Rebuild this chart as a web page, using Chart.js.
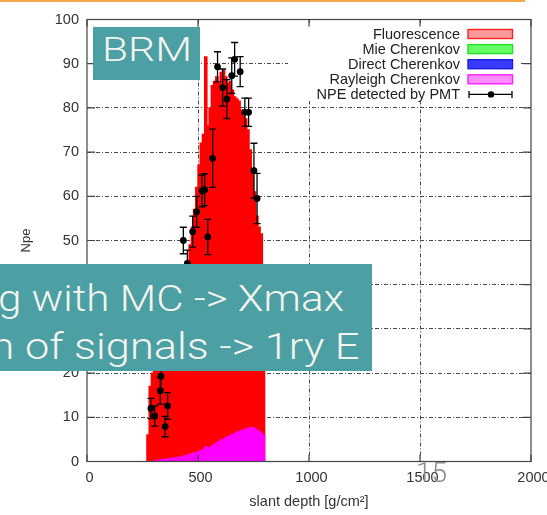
<!DOCTYPE html>
<html>
<head>
<meta charset="utf-8">
<script src="https://cdn.jsdelivr.net/npm/chart.js@4.4.1/dist/chart.umd.min.js"></script>
<style>
  html, body { margin: 0; padding: 0; background: #fff; }
  #wrap { position: relative; width: 547px; height: 515px; overflow: hidden; }
  #topline { position: absolute; left: 0; top: 0; width: 525px; height: 2px; background: #f3a64c; }
  .tag { position: absolute; background: #4c9fa3; }
  .tag span, #page {
    position: absolute; white-space: nowrap;
    font-family: Roboto, "Open Sans", sans-serif; font-weight: 300;
  }
  .tag span { color: #f4f4ef; }
  #brm { left: 93.3px; top: 26.7px; width: 106.7px; height: 53.3px; }
  #brm span { left: 9px; top: 5.4px; font-size: 34px; line-height: 34px; transform-origin: left center; }
  #note { left: 0; top: 263.5px; width: 371.5px; height: 107px; }
  #note span { font-size: 36px; line-height: 36px; transform-origin: right center; }
  #line1 { right: 27.9px; top: 17.7px; }
  #line2 { right: 12.2px; top: 65.2px; }
  #page { left: 416px; top: 459.4px; font-size: 28px; line-height: 28px; color: #8c8c8c; }
</style>
</head>
<body>
<div id="wrap">
  <canvas id="npeChart" width="547" height="515"></canvas>
  <div id="topline"></div>
  <div id="brm" class="tag"><span id="brmText">BRM</span></div>
  <div id="note" class="tag">
    <span id="line1">g with MC -&gt; Xmax</span>
    <span id="line2">n of signals -&gt; 1ry E</span>
  </div>
  <div id="page">15</div>
</div>
<script>
// simulated photoelectrons per slant depth bin (bin centres, g/cm^2)
var fluoDepth = [275, 285, 295, 305, 315, 325, 335, 345, 355, 365, 375, 385, 395, 405, 415, 425, 435, 445,
  455, 465, 475, 485, 495, 505, 515, 525, 535, 545, 555, 565, 575, 585, 595, 605, 615, 625, 635, 645,
  655, 665, 675, 685, 695, 705, 715, 725, 735, 745, 755, 765, 775, 785, 795];
var fluoNpe = [6, 17, 20, 22, 23, 25, 26, 28, 29, 30, 32, 33, 35, 36, 38, 39, 41, 43,
  45, 49, 53, 57, 62, 67, 72, 74, 91.5, 76, 80, 85, 86, 87, 85.5, 88, 88.5, 87, 85.5, 86,
  84, 82.5, 82, 81.5, 79.5, 78, 77.5, 75, 70.5, 66, 61, 55.5, 53, 51.5, 44];

var rayDepth = [305, 315, 325, 335, 345, 355, 365, 375, 385, 395, 405, 415, 425, 435, 445, 455, 465,
  475, 485, 495, 505, 515, 525, 535, 545, 555, 565, 575, 585, 595, 605, 615, 625, 635, 645, 655,
  665, 675, 685, 695, 705, 715, 725, 735, 745, 755, 765, 775, 785, 795];
var rayNpe = [0.1, 0.2, 0.3, 0.3, 0.4, 0.5, 0.5, 0.6, 0.7, 0.8, 0.9, 0.9, 1.0, 1.2, 1.3, 1.4, 1.6,
  1.8, 1.9, 2.0, 2.3, 2.5, 2.7, 3.3, 3.0, 3.2, 3.5, 3.8, 4.2, 4.5, 4.8, 5.0, 5.3, 5.6, 5.8, 6.1,
  6.3, 6.6, 6.8, 6.9, 7.1, 7.3, 7.4, 7.6, 7.7, 7.4, 7.1, 6.8, 6.4, 5.9];

// measured NPE with errors
var pmtDepth = [288, 305, 330, 333, 352, 363, 434, 452, 476, 494, 518, 530, 544, 566, 588, 611,
  630, 652, 665, 690, 711, 728, 752, 766];
var pmtNpe = [12.0, 10.3, 16.0, 19.3, 7.9, 12.6, 50.0, 44.8, 52.0, 56.5, 61.2, 61.5, 50.8, 68.6,
  89.3, 84.6, 82.0, 87.3, 91.0, 88.2, 79.0, 79.0, 65.8, 59.5];
var pmtErr = [2.3, 2.3, 3.0, 3.0, 2.3, 3.0, 3.0, 3.0, 3.5, 3.5, 3.6, 3.6, 4.0, 6.6, 3.4, 4.2,
  4.4, 4.0, 3.8, 3.4, 3.2, 3.2, 6.2, 5.7];

var xTicks = [0, 500, 1000, 1500, 2000];
var yTicks = [0, 10, 20, 30, 40, 50, 60, 70, 80, 90, 100];
var seriesNames = ['Fluorescence', 'Mie Cherenkov', 'Direct Cherenkov', 'Rayleigh Cherenkov', 'NPE detected by PMT'];
var keyFill = ['#ff9a9a', '#66ff66', '#3a3aff', '#ff8cff'];
var keyEdge = ['#ff2020', '#20e020', '#1c1ce8', '#ff20ff'];

var fontFamily = '"Liberation Sans", Arial, sans-serif';
var tickFont = { family: fontFamily, size: 14.5 };

function points(xs, ys) {
  return xs.map(function(v, i) { return { x: v, y: ys[i] }; });
}

// stretch the slide labels to the width they occupy
function fitText(id, width) {
  var el = document.getElementById(id);
  var w = el.getBoundingClientRect().width;
  el.style.transform = 'scaleX(' + (width / w) + ')';
}

// error bars, key box and the gnuplot style frame
var gnuFrame = {
  id: 'gnuFrame',
  afterDatasetsDraw: function(chart) {
    var ctx = chart.ctx, a = chart.chartArea;
    var xs = chart.scales.x, ys = chart.scales.y;
    ctx.save();

    ctx.strokeStyle = '#000';
    ctx.lineWidth = 1.3;
    pmtDepth.forEach(function(d, i) {
      var px = xs.getPixelForValue(d);
      var hi = ys.getPixelForValue(pmtNpe[i] + pmtErr[i]);
      var lo = ys.getPixelForValue(pmtNpe[i] - pmtErr[i]);
      ctx.beginPath();
      ctx.moveTo(px, hi); ctx.lineTo(px, lo);
      ctx.moveTo(px - 3.5, hi); ctx.lineTo(px + 3.5, hi);
      ctx.moveTo(px - 3.5, lo); ctx.lineTo(px + 3.5, lo);
      ctx.stroke();
    });

    // opaque key
    ctx.fillStyle = '#fff';
    ctx.fillRect(288, 23, 233, 78);

    // frame with inward ticks
    ctx.strokeStyle = '#444';
    ctx.lineWidth = 1.2;
    ctx.strokeRect(a.left, a.top, a.right - a.left, a.bottom - a.top);
    ctx.beginPath();
    xTicks.forEach(function(v) {
      var px = xs.getPixelForValue(v);
      ctx.moveTo(px, a.bottom); ctx.lineTo(px, a.bottom - 7);
      ctx.moveTo(px, a.top); ctx.lineTo(px, a.top + 7);
    });
    yTicks.forEach(function(v) {
      var py = ys.getPixelForValue(v);
      ctx.moveTo(a.left, py); ctx.lineTo(a.left + 8, py);
      ctx.moveTo(a.right, py); ctx.lineTo(a.right - 8, py);
    });
    ctx.stroke();

    // key entries
    ctx.font = '14.5px ' + fontFamily;
    ctx.textAlign = 'right';
    ctx.textBaseline = 'middle';
    seriesNames.forEach(function(name, i) {
      var row = 34 + i * 15.1;
      ctx.fillStyle = '#222';
      ctx.fillText(name, 460, row + 0.5);
      if (i < 4) {
        ctx.fillStyle = keyFill[i];
        ctx.strokeStyle = keyEdge[i];
        ctx.lineWidth = 1.4;
        ctx.fillRect(468, row - 4.5, 44.5, 9);
        ctx.strokeRect(468, row - 4.5, 44.5, 9);
      } else {
        ctx.strokeStyle = '#000';
        ctx.lineWidth = 1.3;
        ctx.beginPath();
        ctx.moveTo(469, row); ctx.lineTo(512, row);
        ctx.moveTo(469, row - 3.5); ctx.lineTo(469, row + 3.5);
        ctx.moveTo(512, row - 3.5); ctx.lineTo(512, row + 3.5);
        ctx.stroke();
        ctx.fillStyle = '#000';
        ctx.beginPath();
        ctx.arc(491, row, 3.2, 0, Math.PI * 2);
        ctx.fill();
      }
    });
    ctx.restore();
  }
};

function gridColor(c) {
  var v = c.tick ? c.tick.value : null;
  return (v === c.scale.min || v === c.scale.max) ? 'rgba(0,0,0,0)' : '#4a4a4a';
}

var histBar = { grouped: false, barPercentage: 1, categoryPercentage: 1, borderWidth: 0, inflateAmount: 0.7 };

var npeChart = new Chart(document.getElementById('npeChart'), {
  type: 'bar',
  plugins: [gnuFrame],
  data: {
    datasets: [
      { type: 'scatter', label: seriesNames[4], data: points(pmtDepth, pmtNpe), order: 0,
        backgroundColor: '#000', borderWidth: 0, pointRadius: 3.4 },
      Object.assign({ label: seriesNames[3], data: points(rayDepth, rayNpe), order: 1,
        backgroundColor: '#ff00ff' }, histBar),
      Object.assign({ label: seriesNames[2], data: [], order: 2, backgroundColor: '#0000ff' }, histBar),
      Object.assign({ label: seriesNames[1], data: [], order: 3, backgroundColor: '#00ff00' }, histBar),
      Object.assign({ label: seriesNames[0], data: points(fluoDepth, fluoNpe), order: 4,
        backgroundColor: '#ff0000' }, histBar)
    ]
  },
  options: {
    responsive: false,
    animation: false,
    devicePixelRatio: 1,
    layout: { padding: { left: 0, right: 16, top: 19.5, bottom: 0 } },
    plugins: { legend: { display: false }, tooltip: { enabled: false } },
    scales: {
      x: {
        type: 'linear', min: 0, max: 2000, offset: false,
        afterBuildTicks: function(s) { s.ticks = xTicks.map(function(v) { return { value: v }; }); },
        ticks: { font: tickFont, color: '#333', padding: 8, labelOffset: 2.5, maxRotation: 0,
          callback: function(v) { return String(v); } },
        grid: { offset: false, drawTicks: false, color: gridColor, lineWidth: 1 },
        border: { display: false, dash: [4, 2, 1, 2] },
        title: { display: true, text: 'slant depth [g/cm²]', font: tickFont, color: '#333',
          padding: { top: 0, bottom: 4.3 } },
        afterFit: function(s) { s.height = 53.5; s.paddingLeft = 0; s.paddingRight = 0; }
      },
      y: {
        min: 0, max: 100,
        afterBuildTicks: function(s) { s.ticks = yTicks.map(function(v) { return { value: v }; }); },
        ticks: { font: tickFont, color: '#333', padding: 8,
          callback: function(v) { return String(v); } },
        grid: { drawTicks: false, color: gridColor, lineWidth: 1 },
        border: { display: false, dash: [4, 2, 1, 2] },
        title: { display: true, text: 'Npe', font: { family: fontFamily, size: 13 }, color: '#333',
          padding: { top: 19, bottom: 0 } },
        afterFit: function(s) { s.width = 87; s.paddingTop = 0; s.paddingBottom = 0; }
      }
    }
  }
});

document.fonts.ready.then(function() {
  fitText('brmText', 90);
  fitText('line1', 346);
  fitText('line2', 369);
});
</script>
</body>
</html>
